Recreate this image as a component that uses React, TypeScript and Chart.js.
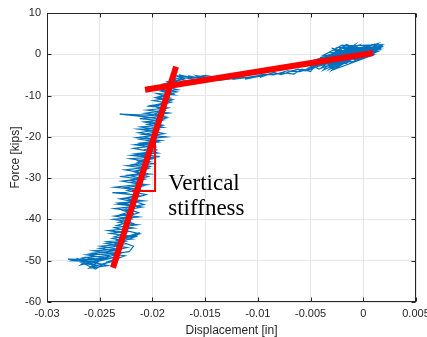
import React, { useEffect, useRef } from 'react';
import { Chart, registerables } from 'chart.js';
Chart.register(...registerables);

// ---- axis setup ----
const xTickValues = [-0.03, -0.025, -0.02, -0.015, -0.01, -0.005, 0, 0.005];
const yTickValues = [-60, -50, -40, -30, -20, -10, 0, 10];
const xTitle = 'Displacement [in]';
const yTitle = 'Force [kips]';
const noteLines = ['Vertical', 'stiffness'];
const noteAnchor: [number, number] = [-0.0185, -32.9];
const noteLineStep = -6.0; // kips between text baselines

// ---- measured hysteresis (displacement [in], force [kips]) ----
const blobPath: [number, number][] = [
  [0.001, 0.5], [-0.001, 1.2], [0.0008, -0.3], [-0.0022, 1.6], [0.0012, 1.4], [-0.0035, -0.8],
  [0.0005, 2.0], [-0.0018, -1.5], [0.0015, 1.9], [-0.003, 0.4], [-0.0008, -1.0], [-0.0042, -1.2],
  [0.0002, 0.9], [-0.0025, -2.8], [0.0018, 2.3], [-0.0012, 2.1], [-0.004, -3.3], [0.0006, 0.2],
  [-0.0028, 1.0], [-0.0005, -0.6], [-0.0045, -2.0], [0.001, 1.7], [-0.0015, 0.6], [-0.0032, -3.6],
  [0.0003, 1.3], [-0.002, 2.2], [-0.0038, -0.3], [0.0014, 0.7], [-0.001, -1.8], [-0.0048, -2.6],
  [-0.0006, 1.9], [-0.0026, -1.4], [0.0009, 2.4], [-0.0034, -2.2], [-0.0014, 1.4], [0.0016, 1.2],
  [-0.0044, -3.0], [-0.0002, 0.1], [-0.003, -3.9], [-0.0008, 2.3], [-0.0022, -0.2], [0.0012, 2.0],
  [-0.0036, -1.6], [-0.0016, -2.2], [0.0004, 1.6], [-0.0041, -0.8], [-0.0012, 0.3], [-0.0028, -3.2],
  [0.0007, 0.9], [-0.0019, 1.8], [-0.0047, -3.4],
];

const trailOut: [number, number][] = [
  [-0.0055, -4.0], [-0.0062, -3.6], [-0.0078, -4.9], [-0.0085, -4.4], [-0.0098, -5.6], [-0.0092, -5.0],
  [-0.0112, -6.0], [-0.0106, -5.4], [-0.0124, -6.1], [-0.0118, -5.7], [-0.0138, -6.3], [-0.0148, -5.9],
  [-0.0156, -5.4], [-0.015, -6.0], [-0.0166, -5.2], [-0.016, -5.8], [-0.0174, -5.0], [-0.017, -6.3],
  [-0.018, -5.6], [-0.0176, -6.8],
];

const bandDown: [number, number][] = [
  [-0.0184, -6.2], [-0.0172, -7.5], [-0.0188, -7.8], [-0.0176, -8.6], [-0.0192, -8.9], [-0.018, -9.8],
  [-0.0196, -9.5], [-0.0183, -10.6], [-0.0199, -11.2], [-0.0186, -11.8], [-0.0202, -12.4], [-0.0188, -13.1],
  [-0.0205, -13.5], [-0.0184, -14.2], [-0.02, -14.8], [-0.0231, -14.5], [-0.0204, -15.2], [-0.019, -15.9],
  [-0.0208, -16.4], [-0.0193, -17.2], [-0.0211, -17.6], [-0.0195, -18.3], [-0.0213, -19.0], [-0.0197, -19.6],
  [-0.0215, -20.2], [-0.0192, -20.9], [-0.0212, -21.5], [-0.0199, -22.2], [-0.0218, -22.8], [-0.0201, -23.6],
  [-0.0216, -24.1], [-0.0193, -24.8], [-0.0221, -25.3], [-0.0203, -26.0], [-0.0219, -26.7], [-0.0205, -27.4],
  [-0.0226, -28.0], [-0.0207, -28.8], [-0.0223, -29.3], [-0.0209, -30.1], [-0.0229, -30.7], [-0.0211, -31.5],
  [-0.0236, -32.2], [-0.0214, -32.8], [-0.0228, -33.6], [-0.0212, -34.3], [-0.0231, -35.0], [-0.0216, -35.8],
  [-0.0233, -36.3], [-0.021, -37.0], [-0.0228, -37.8], [-0.0218, -38.6], [-0.0236, -39.2], [-0.022, -39.9],
  [-0.0232, -40.7], [-0.0214, -41.3], [-0.0236, -42.0], [-0.0224, -42.8], [-0.024, -43.4], [-0.0222, -44.0],
  [-0.0238, -44.6], [-0.0226, -45.3], [-0.0244, -45.8], [-0.023, -46.4], [-0.025, -47.0], [-0.0236, -47.6],
  [-0.0258, -48.2], [-0.024, -48.8], [-0.0264, -49.2], [-0.0248, -49.8],
];

const bottomLoop: [number, number][] = [
  [-0.028, -49.6], [-0.0262, -50.4], [-0.0272, -49.4], [-0.0252, -51.2], [-0.0266, -50.6], [-0.0254, -52.0],
  [-0.0246, -50.8], [-0.0258, -51.5], [-0.0238, -50.2], [-0.025, -51.0], [-0.0232, -49.6], [-0.0244, -50.4],
  [-0.0226, -48.8], [-0.024, -48.4], [-0.0222, -47.8],
];

const bandUp: [number, number][] = [
  [-0.0218, -46.5], [-0.0234, -45.0], [-0.0212, -43.5], [-0.0228, -42.5], [-0.0218, -41.0], [-0.023, -39.8],
  [-0.0213, -38.4], [-0.0226, -37.2], [-0.0208, -36.4], [-0.0222, -35.2], [-0.0206, -34.0], [-0.0224, -33.0],
  [-0.0208, -31.8], [-0.022, -30.4], [-0.0204, -29.6], [-0.0218, -28.4], [-0.0202, -27.2], [-0.0214, -26.2],
  [-0.0198, -25.2], [-0.0212, -24.4], [-0.0196, -23.2], [-0.021, -22.0], [-0.0194, -21.0], [-0.0208, -20.0],
  [-0.0189, -19.2], [-0.0206, -18.2], [-0.019, -17.2], [-0.0203, -16.4], [-0.0186, -15.4], [-0.02, -14.6],
  [-0.0188, -13.6], [-0.0198, -12.6], [-0.0182, -11.6], [-0.0196, -10.6], [-0.018, -9.6], [-0.0192, -8.6],
  [-0.0178, -7.6], [-0.0186, -6.6], [-0.017, -6.0], [-0.0178, -5.2], [-0.016, -5.6], [-0.015, -5.1],
  [-0.014, -5.6], [-0.0128, -5.2], [-0.0115, -5.8], [-0.01, -5.3], [-0.0088, -4.9], [-0.0075, -4.5],
  [-0.0066, -4.8], [-0.0058, -3.6], [-0.005, -4.2], [-0.0046, -2.8], [-0.0024, -1.0], [0.0008, 1.1],
];

const blobPath2: [number, number][] = [
  [0.0016, 1.6], [-0.003, -2.4], [0.0011, 2.5], [-0.004, -2.6], [0.0002, 1.9], [-0.0034, -0.2],
  [0.0019, 1.9], [-0.0024, -2.0], [-0.0004, 2.2], [-0.0046, -1.4], [0.0008, 0.1], [-0.002, 0.9],
  [-0.0038, -3.8], [0.0013, 2.2], [-0.001, -0.4], [-0.003, 1.5], [0.0, -0.8], [-0.0044, -2.4],
  [-0.0016, 2.4], [0.001, -0.1], [-0.0026, -3.5], [-0.0006, 0.8], [-0.004, -1.8], [0.0017, 1.5],
  [-0.0018, -0.9], [-0.005, -3.0], [-0.0012, 1.8], [0.0005, 1.0], [-0.0032, -2.9], [-0.0022, 1.3],
  [-0.0008, -1.4], [0.0014, 2.6], [-0.0036, -1.0], [-0.0002, 0.5], [-0.0042, -3.6],
];

const trailOut2: [number, number][] = [
  [-0.0046, -3.0], [-0.006, -4.2], [-0.0072, -4.0], [-0.0085, -5.0], [-0.0095, -4.8], [-0.0108, -5.7],
  [-0.012, -5.5], [-0.0132, -6.0], [-0.0145, -5.7], [-0.0158, -5.2], [-0.0152, -5.9], [-0.0168, -5.4],
  [-0.0162, -6.0], [-0.0175, -5.5], [-0.0171, -6.1],
];

const bandDown2: [number, number][] = [
  [-0.0178, -6.5], [-0.019, -7.2], [-0.0181, -8.0], [-0.0195, -8.4], [-0.0177, -9.1], [-0.019, -10.0],
  [-0.0197, -10.5], [-0.0181, -11.0], [-0.0193, -12.0], [-0.0203, -12.6], [-0.0185, -13.0], [-0.0196, -13.9],
  [-0.0207, -14.3], [-0.0189, -15.0], [-0.0212, -15.6], [-0.0192, -16.1], [-0.0205, -17.0], [-0.019, -17.7],
  [-0.0214, -18.1], [-0.0196, -18.8], [-0.0209, -19.4], [-0.0187, -20.0], [-0.0211, -20.6], [-0.0195, -21.3],
  [-0.0217, -21.9], [-0.0198, -22.5], [-0.0209, -23.2], [-0.0195, -23.9], [-0.022, -24.5], [-0.02, -25.1],
  [-0.0213, -25.8], [-0.0199, -26.5], [-0.0224, -27.0], [-0.0204, -27.7], [-0.0216, -28.4], [-0.0202, -29.0],
  [-0.0231, -29.6], [-0.0208, -30.3], [-0.0221, -31.0], [-0.0205, -31.6], [-0.0226, -32.3], [-0.021, -33.0],
  [-0.0238, -33.5], [-0.0215, -34.1], [-0.0226, -34.9], [-0.0208, -35.5], [-0.0232, -36.0], [-0.0214, -36.8],
  [-0.0236, -37.4], [-0.0219, -38.0], [-0.023, -38.8], [-0.0213, -39.4], [-0.0237, -40.0], [-0.0222, -40.6],
  [-0.0234, -41.5], [-0.0218, -42.1], [-0.0242, -42.7], [-0.0225, -43.3], [-0.0236, -44.2], [-0.022, -44.8],
  [-0.0243, -45.4], [-0.0229, -46.0], [-0.0249, -46.5], [-0.0233, -47.2], [-0.0256, -47.6], [-0.0238, -48.3],
  [-0.0262, -48.6], [-0.0245, -49.3], [-0.027, -49.9],
];

const bottomLoop2: [number, number][] = [
  [-0.0252, -50.2], [-0.0276, -50.0], [-0.0258, -49.0], [-0.0268, -51.0], [-0.0248, -49.6], [-0.026, -51.8],
  [-0.0242, -51.2], [-0.0256, -50.4], [-0.0236, -49.2], [-0.0252, -49.8], [-0.023, -48.2], [-0.0246, -48.0],
  [-0.0224, -46.8], [-0.0238, -46.2], [-0.0214, -44.0], [-0.023, -44.6], [-0.0212, -43.2],
];

// ---- fitted stiffness lines ----
const postYieldLine: [number, number][] = [[-0.0207, -8.6], [0.00093, 0.3]];
const verticalLine: [number, number][] = [[-0.02374, -51.7], [-0.01776, -3.0]];
const slopeTriangle: [number, number][] = [[-0.02195, -33.1], [-0.01975, -33.1], [-0.01975, -20.5]];

const toPts = (a: [number, number][]) => a.map(([x, y]) => ({ x, y }));

const TICK_FONT = { family: '"Liberation Sans", Arial, sans-serif', size: 11 };

const matlabAxes = {
  id: 'matlabAxes',
  afterDatasetsDraw(chart: any) {
    const { ctx, chartArea: a, scales } = chart;
    const xs = scales.x, ys = scales.y;
    ctx.save();
    ctx.strokeStyle = '#262626';
    ctx.lineWidth = 1;
    const L = Math.round(a.left) + 0.5, R = Math.round(a.right) - 0.5;
    const T = Math.round(a.top) + 0.5, B = Math.round(a.bottom) - 0.5;
    ctx.strokeRect(L, T, R - L, B - T);
    const tl = 4;
    ctx.beginPath();
    xTickValues.forEach((v) => {
      const px = Math.round(xs.getPixelForValue(v)) + 0.5;
      ctx.moveTo(px, B); ctx.lineTo(px, B - tl);
      ctx.moveTo(px, T); ctx.lineTo(px, T + tl);
    });
    yTickValues.forEach((v) => {
      const py = Math.round(ys.getPixelForValue(v)) + 0.5;
      ctx.moveTo(L, py); ctx.lineTo(L + tl, py);
      ctx.moveTo(R, py); ctx.lineTo(R - tl, py);
    });
    ctx.stroke();

    // axis titles
    ctx.fillStyle = '#262626';
    ctx.font = '12px "Liberation Sans", Arial, sans-serif';
    ctx.textAlign = 'center';
    ctx.textBaseline = 'middle';
    ctx.fillText(xTitle, (a.left + a.right) / 2, 331);
    ctx.save();
    ctx.translate(16, (a.top + a.bottom) / 2);
    ctx.rotate(-Math.PI / 2);
    ctx.fillText(yTitle, 0, 0);
    ctx.restore();

    // annotation
    ctx.fillStyle = '#000000';
    ctx.font = '23px "Liberation Serif", "Times New Roman", serif';
    ctx.textAlign = 'left';
    ctx.textBaseline = 'alphabetic';
    noteLines.forEach((line, i) => {
      const px = xs.getPixelForValue(noteAnchor[0]);
      const py = ys.getPixelForValue(noteAnchor[1] + i * noteLineStep);
      ctx.fillText(line, px, py);
    });
    ctx.restore();
  },
};

export default function App() {
  const ref = useRef<HTMLCanvasElement | null>(null);
  useEffect(() => {
    document.body.style.margin = '0';
    const canvas = ref.current!;
    const blue = [
      ...blobPath, ...trailOut, ...bandDown, ...bottomLoop, ...bandUp,
      ...blobPath2, ...trailOut2, ...bandDown2, ...bottomLoop2,
    ];
    const chart = new Chart(canvas, {
      type: 'scatter',
      data: {
        datasets: [
          { data: toPts(postYieldLine), showLine: true, borderColor: '#ff0000', borderWidth: 6, pointRadius: 0, borderCapStyle: 'butt' } as any,
          { data: toPts(verticalLine), showLine: true, borderColor: '#ff0000', borderWidth: 6, pointRadius: 0, borderCapStyle: 'butt' } as any,
          { data: toPts(slopeTriangle), showLine: true, borderColor: '#ff0000', borderWidth: 2, pointRadius: 0 } as any,
          { data: toPts(blue), showLine: true, borderColor: '#0072BD', borderWidth: 1.2, pointRadius: 0, tension: 0 } as any,
        ],
      },
      options: {
        animation: false,
        responsive: false,
        events: [],
        layout: { padding: { top: 13, right: 11, left: 0, bottom: 0 } },
        plugins: { legend: { display: false }, tooltip: { enabled: false } },
        scales: {
          x: {
            type: 'linear', min: -0.03, max: 0.005,
            afterBuildTicks: (s: any) => { s.ticks = xTickValues.map((v) => ({ value: v })); },
            afterFit: (s: any) => { s.height = 35; s.paddingLeft = 0; s.paddingRight = 0; },
            ticks: { color: '#262626', font: TICK_FONT, padding: 5, maxRotation: 0, autoSkip: false, callback: (v: any) => String(v) },
            grid: { color: '#e6e6e6', drawTicks: false },
            border: { display: false },
          },
          y: {
            type: 'linear', min: -60, max: 10,
            afterBuildTicks: (s: any) => { s.ticks = yTickValues.map((v) => ({ value: v })); },
            afterFit: (s: any) => { s.width = 47; s.paddingTop = 0; s.paddingBottom = 0; },
            ticks: { color: '#262626', font: TICK_FONT, padding: 6, autoSkip: false, callback: (v: any) => String(v) },
            grid: { color: '#e6e6e6', drawTicks: false },
            border: { display: false },
          },
        },
      },
      plugins: [matlabAxes],
    });
    return () => chart.destroy();
  }, []);
  return (
    <div style={{ position: 'absolute', left: 0, top: 0, width: 427, height: 337 }}>
      <canvas ref={ref} width={427} height={337} />
    </div>
  );
}
